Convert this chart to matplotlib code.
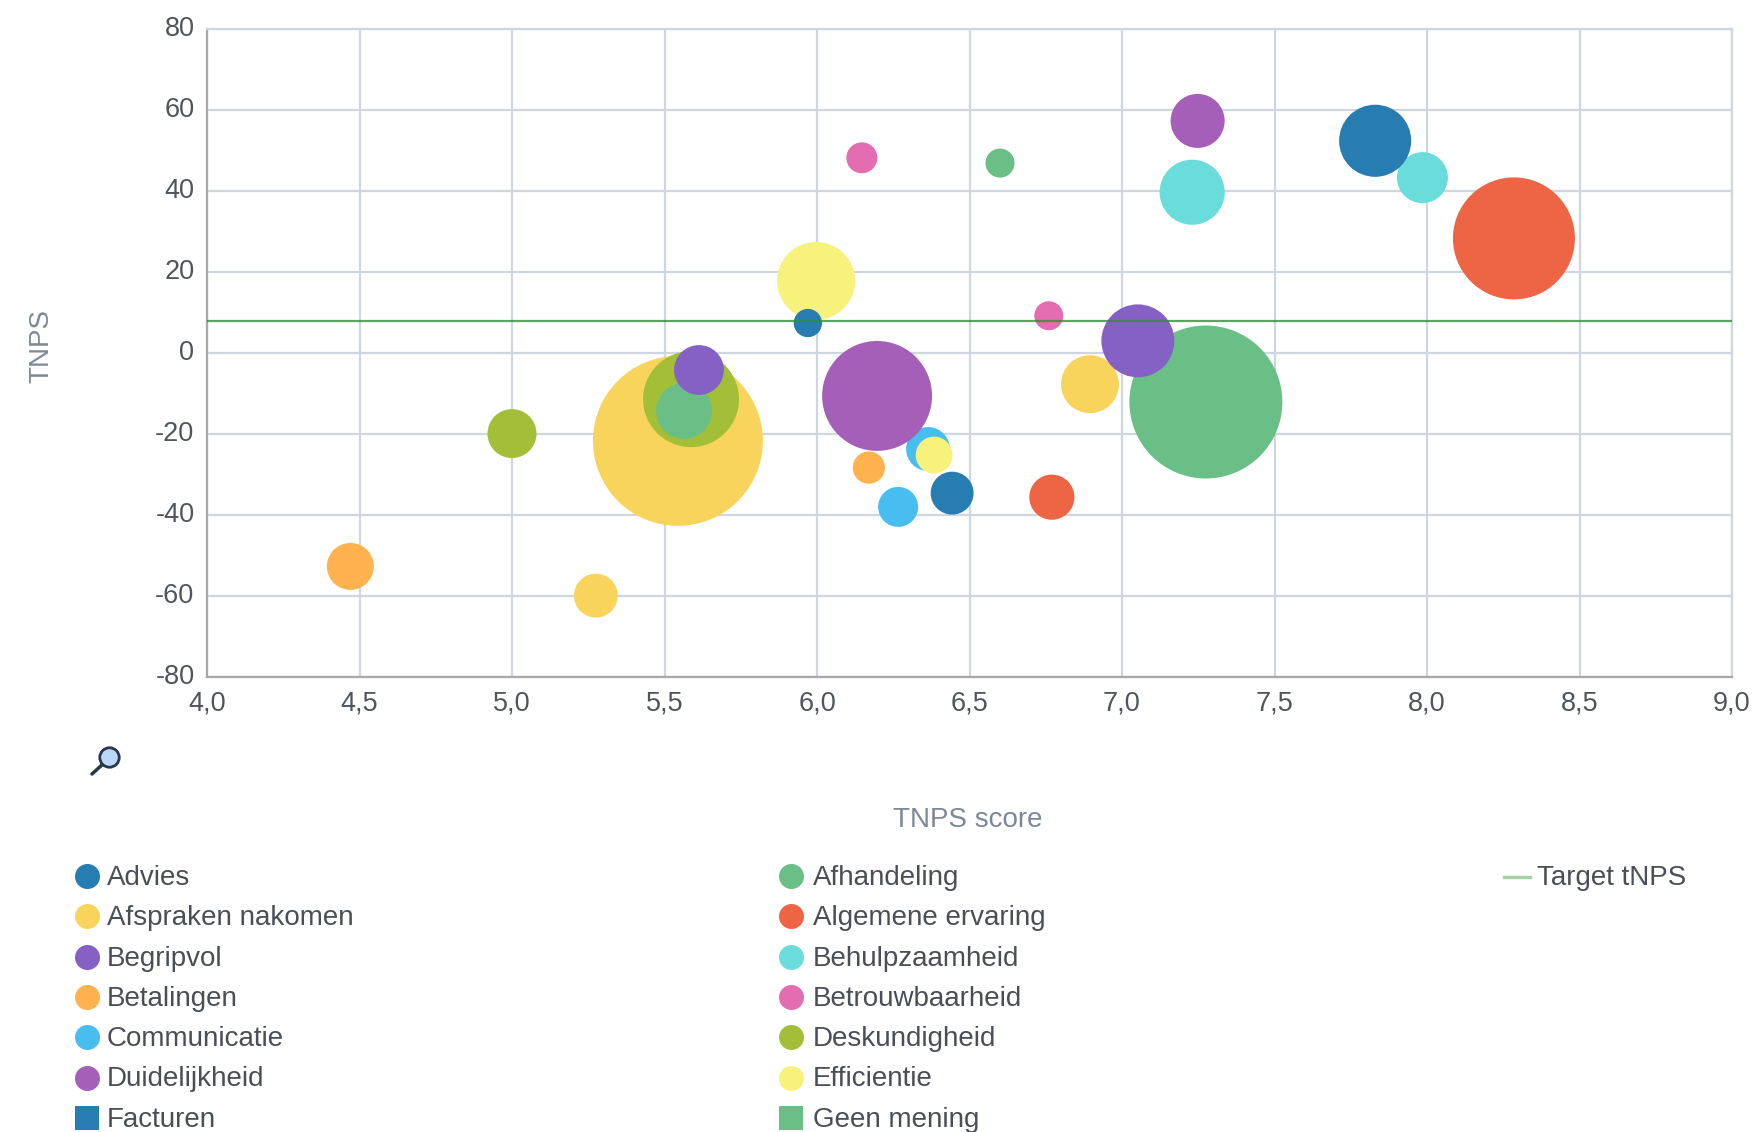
import matplotlib
matplotlib.use('Agg')
import matplotlib.pyplot as plt
from matplotlib.transforms import ScaledTranslation

plt.rcParams['font.family'] = ['Liberation Sans', 'DejaVu Sans']
plt.rcParams['axes.unicode_minus'] = False

# series values: score, tnps, bubble size
advies_x = [7.83, 6.443, 5.97]
advies_y = [52.4, -34.6, 7.4]
advies_z = [130, 46, 20]
afhandeling_x = [7.275, 5.564, 6.60]
afhandeling_y = [-12.1, -14.3, 46.9]
afhandeling_z = [585, 78, 21]
afspraken_x = [5.544, 6.895, 5.275]
afspraken_y = [-21.7, -7.7, -59.9]
afspraken_z = [722, 84, 48]
algemene_x = [8.285, 6.77]
algemene_y = [28.3, -35.6]
algemene_z = [372, 51]
begripvol_x = [7.052, 5.613]
begripvol_y = [3.0, -4.2]
begripvol_z = [133, 62]
behulpzaam_x = [7.23, 7.985]
behulpzaam_y = [39.7, 43.3]
behulpzaam_z = [106, 65]
betalingen_x = [4.47, 6.17]
betalingen_y = [-52.7, -28.3]
betalingen_z = [55, 26]
betrouwbaar_x = [6.147, 6.76]
betrouwbaar_y = [48.2, 9.2]
betrouwbaar_z = [24, 21]
communicatie_x = [6.266, 6.364]
communicatie_y = [-38.0, -23.7]
communicatie_z = [40, 48]
deskundig_x = [5.587, 5.0]
deskundig_y = [-11.4, -19.9]
deskundig_z = [230, 60]
duidelijk_x = [6.197, 7.248]
duidelijk_y = [-10.6, 57.3]
duidelijk_z = [302, 73]
efficientie_x = [5.997, 6.384]
efficientie_y = [17.8, -25.2]
efficientie_z = [152, 34]
target = 8

x_ticks = [4.0, 4.5, 5.0, 5.5, 6.0, 6.5, 7.0, 7.5, 8.0, 8.5, 9.0]
x_labels = ['4,0', '4,5', '5,0', '5,5', '6,0', '6,5', '7,0', '7,5', '8,0', '8,5', '9,0']
y_ticks = [-80, -60, -40, -20, 0, 20, 40, 60, 80]

# draw order as seen in the overlaps
series = [
    (afspraken_x, afspraken_y, afspraken_z, '#f9d45c'),
    (deskundig_x, deskundig_y, deskundig_z, '#a3bf37'),
    (afhandeling_x, afhandeling_y, afhandeling_z, '#69bf85'),
    (begripvol_x, begripvol_y, begripvol_z, '#8561c5'),
    (algemene_x, algemene_y, algemene_z, '#ee6546'),
    (behulpzaam_x, behulpzaam_y, behulpzaam_z, '#6adcdc'),
    (betalingen_x, betalingen_y, betalingen_z, '#ffb24d'),
    (betrouwbaar_x, betrouwbaar_y, betrouwbaar_z, '#e36db0'),
    (communicatie_x, communicatie_y, communicatie_z, '#48bdf0'),
    (duidelijk_x, duidelijk_y, duidelijk_z, '#a65fb8'),
    (efficientie_x, efficientie_y, efficientie_z, '#f7f27c'),
    (advies_x, advies_y, advies_z, '#277cb2'),
]

legend_left = [('Advies', '#277cb2', 'o'), ('Afspraken nakomen', '#f9d45c', 'o'), ('Begripvol', '#8561c5', 'o'),
               ('Betalingen', '#ffb24d', 'o'), ('Communicatie', '#48bdf0', 'o'), ('Duidelijkheid', '#a65fb8', 'o'),
               ('Facturen', '#277cb2', 's')]
legend_right = [('Afhandeling', '#69bf85', 'o'), ('Algemene ervaring', '#ee6546', 'o'), ('Behulpzaamheid', '#6adcdc', 'o'),
                ('Betrouwbaarheid', '#e36db0', 'o'), ('Deskundigheid', '#a3bf37', 'o'), ('Efficientie', '#f7f27c', 'o'),
                ('Geen mening', '#69bf85', 's')]

W, H = 1753, 1132
fig = plt.figure(figsize=(W / 100, H / 100), dpi=100)
ax = fig.add_axes([207 / W, (H - 677) / H, 1525 / W, 648 / H])

for xs, ys, zs, color in series:
    ax.scatter(xs, ys, s=[z * 20.74 for z in zs], color=color, linewidths=0, zorder=3, clip_on=False)
ax.axhline(target, color='#2f8f3a', linewidth=1.6, alpha=0.8, zorder=4)

ax.set_xlim(4, 9)
ax.set_ylim(-80, 80)
ax.set_xticks(x_ticks)
ax.set_xticklabels(x_labels)
ax.set_yticks(y_ticks)
ax.grid(True, color='#ced6e0', linewidth=1.6, zorder=0)
ax.set_axisbelow(True)
ax.tick_params(length=0, labelsize=19.5, labelcolor='#50555c')
ax.tick_params(axis='x', pad=10)
ax.tick_params(axis='y', pad=9)
# y labels sit a little above their gridlines
up = ScaledTranslation(0, 2 / 72, fig.dpi_scale_trans)
for lab in ax.get_yticklabels():
    lab.set_transform(lab.get_transform() + up)
for side in ['top', 'right']:
    ax.spines[side].set_color('#ced6e0')
    ax.spines[side].set_linewidth(1.6)
for side in ['left', 'bottom']:
    ax.spines[side].set_color('#a8a8a8')
    ax.spines[side].set_linewidth(1.6)

# overlay in pixel coordinates for titles, legend and the zoom icon
ov = fig.add_axes([0, 0, 1, 1], zorder=5)
ov.set_xlim(0, W)
ov.set_ylim(H, 0)
ov.axis('off')

ov.text(968, 820, 'TNPS score', ha='center', va='center', fontsize=20, color='#7d8896')
ov.text(41, 346, 'TNPS', ha='center', va='center', rotation=90, fontsize=20, color='#7d8896')

for col, (mx, tx) in zip([legend_left, legend_right], [(87, 107), (791, 813)]):
    for i, (name, color, marker) in enumerate(col):
        y = 876 + i * 40.3
        ms = 18 if marker == 'o' else 17.5
        ov.plot([mx], [y], marker=marker, markersize=ms, color=color, markeredgewidth=0, linestyle='none')
        ov.text(tx, y + 2, name, ha='left', va='center', fontsize=20, color='#4a4f57')

ov.plot([1504, 1530], [877, 877], color='#a2d2a6', linewidth=2.4)
ov.text(1537, 878, 'Target tNPS', ha='left', va='center', fontsize=20, color='#4a4f57')

# magnifier icon
ov.plot([92, 103], [774, 764], color='#2c3648', linewidth=2.5, solid_capstyle='round')
ov.plot([109], [757], marker='o', markersize=14, markerfacecolor='#bcd8f8', markeredgecolor='#2c3648', markeredgewidth=2)

fig.savefig('out.png', dpi=100)
